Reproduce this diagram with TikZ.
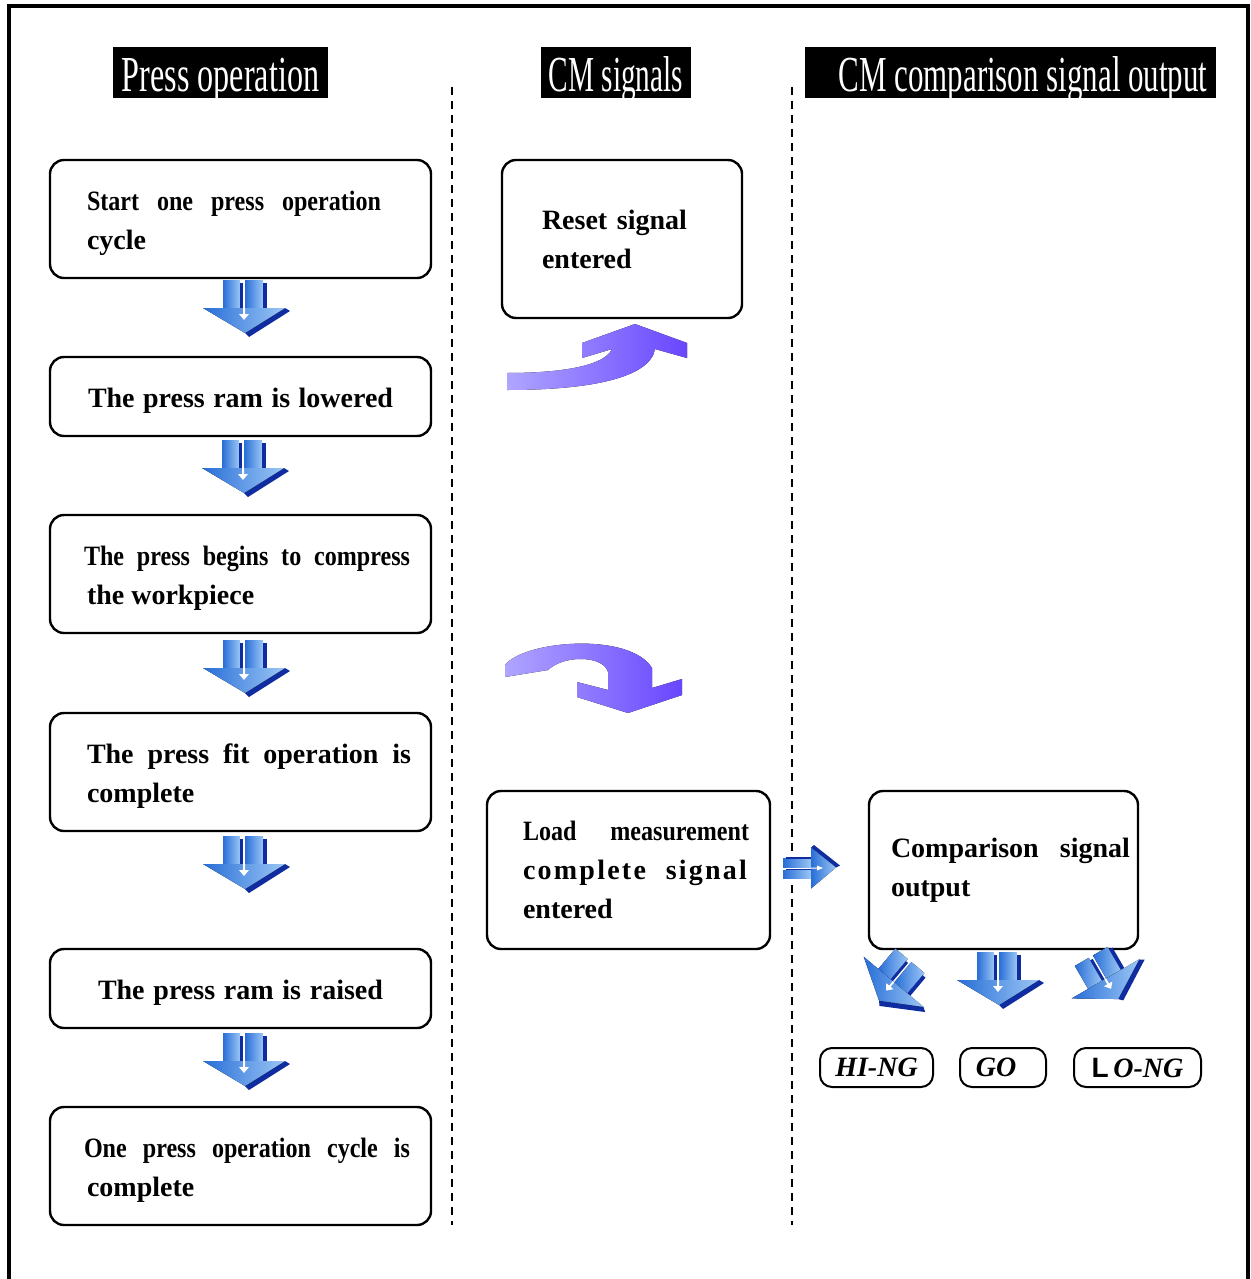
\documentclass[tikz,border=0pt]{standalone}
\usepackage{fontspec}
\setmainfont{Liberation Serif}
\newfontfamily\sansL{Liberation Sans}
\definecolor{bA}{RGB}{40,110,215}
\definecolor{bB}{RGB}{155,198,245}
\definecolor{bD}{RGB}{15,45,160}
\definecolor{pA}{RGB}{175,165,255}
\definecolor{pB}{RGB}{105,70,255}
\newcommand\jl[2]{\makebox[#1][s]{#2}}
\newcommand\cnd{\addfontfeature{FakeStretch=0.86}}
\newcommand\hd[1]{\raisebox{0pt}[19.5pt][0pt]{#1}}
\tikzset{
  box/.style={draw, line width=1.2pt, rounded corners=7pt, inner sep=0pt,
    minimum height=#1, font=\fontsize{14}{19.5}\selectfont\bfseries},
  box/.default=59pt,
  hdr/.style={fill=black, text=white, inner sep=0pt, minimum height=25.5pt,
    font=\fontsize{24}{24}\selectfont},
  tag/.style={draw, line width=1pt, rounded corners=6pt, minimum height=19.5pt,
    inner sep=0pt, font=\fontsize{14}{14}\selectfont\bfseries\itshape},
  sep/.style={line width=1pt, dash pattern=on 4pt off 3pt},
  barr/.pic={
    \fill[left color=bA, right color=bB] (-23,-28) rectangle (-6,0);
    \fill[bD] (-6,-25) rectangle (-3,0);
    \fill[left color=bA, right color=bB] (-1,-28) rectangle (17,0);
    \fill[bD] (17,-25) rectangle (21,0);
    \fill[bD] (39,0) -- (44,3) -- (3,29) -- (-1,25) -- cycle;
    \fill[left color=bA, right color=bB] (-43,0) -- (39,0) -- (-1,25) -- cycle;
    \fill[white] (-3,0) -- (-3,6) -- (-7,6) -- (-2,12) -- (3,6) -- (-1,6) -- (-1,0) -- cycle;
  }
}
\begin{document}
\begin{tikzpicture}[x=0.5pt,y=-0.5pt]
\useasboundingbox (0,0) rectangle (1250,1279);
% frame
\draw[line width=2pt] (9,1279) -- (9,6) -- (1248,6) -- (1248,1279);
% separators
\draw[sep] (452,87) -- (452,1225);
\draw[sep] (792,87) -- (792,1225);
% headers
\node[hdr, minimum width=107.5pt] (h1) at (220.5,72.5) {\hd{\scalebox{0.67}[1.05]{Press operation}}};
\node[hdr, minimum width=75pt] (h2) at (616,72.5) {\hd{\scalebox{0.61}[1.05]{CM signals}}};
\node[hdr, minimum width=205.5pt] (h3) at (1010.5,72.5) {\hspace{12.5pt}\hd{\scalebox{0.645}[1.05]{CM comparison signal output}}};
% left column
\node[box, minimum width=190.5pt] (b1) at (240.5,219) {\parbox{153.5pt}{\vspace*{4pt}\jl{147pt}{\cnd Start one press operation}\\cycle}};
\node[box=39.5pt, minimum width=190.5pt] (b2) at (240.5,396.5) {\raisebox{0pt}[13.5pt][3pt]{\jl{152.5pt}{The press ram is lowered}}};
\node[box, minimum width=190.5pt] (b3) at (240.5,574) {\parbox{153.5pt}{\vspace*{4pt}\hspace*{-1.5pt}\jl{163pt}{\cnd The press begins to compress}\\the workpiece}};
\node[box, minimum width=190.5pt] (b4) at (240.5,772) {\parbox{153.5pt}{\vspace*{4pt}\jl{162pt}{The press fit operation is}\\complete}};
\node[box=39.5pt, minimum width=190.5pt] (b5) at (240.5,988.5) {\raisebox{0pt}[13.5pt][3pt]{\jl{142.5pt}{The press ram is raised}}};
\node[box, minimum width=190.5pt] (b6) at (240.5,1166) {\parbox{153.5pt}{\vspace*{4pt}\hspace*{-1.5pt}\jl{163pt}{\cnd One press operation cycle is}\\complete}};
% middle column
\node[box=79pt, minimum width=120pt] (r) at (622,239) {\parbox{80pt}{\jl{72.5pt}{Reset signal}\\entered}};
\node[box=79pt, minimum width=141.5pt] (l) at (628.5,870) {\parbox{105.5pt}{\jl{113pt}{\cnd Load measurement}\\\jl{112pt}{\addfontfeature{LetterSpace=8}complete signal}\\entered}};
% right column
\node[box=79pt, minimum width=134.5pt] (c) at (1003.5,870) {\parbox{112.5pt}{\jl{119.5pt}{Comparison signal}\\output}};
\node[tag, minimum width=56.5pt] (hi) at (876.5,1067.5) {HI-NG};
\node[tag, minimum width=43pt] (go) at (1003,1067.5) {GO\kern7pt};
\node[tag, minimum width=63.5pt] (lo) at (1137.5,1067.5) {{\sansL\upshape L}\,O-NG};
% blue block arrows
\pic at (246,308) {barr};
\pic at (245,468) {barr};
\pic at (246,668) {barr};
\pic at (246,864) {barr};
\pic at (246,1061) {barr};
\pic at (1000,980) {barr};
\pic[rotate=90, xscale=0.5] at (811,867) {barr};
\pic[rotate=-40, scale=0.95] at (895,983) {barr};
\pic[rotate=30, scale=0.95] at (1107,978) {barr};
% purple curved arrows
\fill[left color=pA, right color=pB] (507,373) .. controls (565,373) and (605,365) .. (612,349)
  -- (582,358) -- (582,343) -- (635,324) -- (687,343) -- (687,358) -- (655,349)
  .. controls (650,378) and (590,390) .. (507,390) -- cycle;
\fill[left color=pA, right color=pB] (505,677) -- (505,665) .. controls (525,640) and (630,632) .. (652,668)
  -- (652,688) -- (682,679) -- (682,695) -- (628,713) -- (577,697) -- (577,682) -- (608,690)
  -- (608,672) .. controls (604,656) and (565,654) .. (548,670) -- cycle;
\end{tikzpicture}
\end{document}
